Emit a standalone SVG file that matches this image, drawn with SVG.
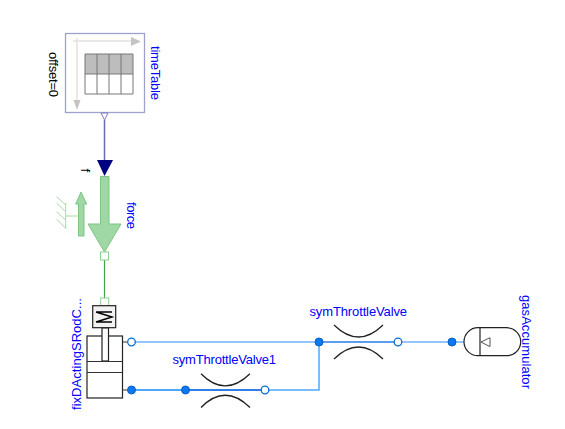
<svg xmlns="http://www.w3.org/2000/svg" width="565" height="429" viewBox="0 0 565 429">
<style>
text{font-family:"Liberation Sans",Arial,sans-serif;font-size:13px;fill:#0000ff}
text.k{fill:#000}
.p{fill:#fff;stroke:#0a6fd8;stroke-width:1.3}
.f{fill:#0a78f0;stroke:#0a5fc0;stroke-width:1}
.w{fill:none;stroke:#4da6ff;stroke-width:1.5}
.arc{fill:none;stroke:#222;stroke-width:1.3}
.g{fill:#a0d8a5;stroke:#7dc585;stroke-width:1}
.b{fill:#fff;stroke:#222;stroke-width:1.2}
</style>
<g id="connectors">
<path d="M104.500 120V160" fill="none" stroke="#6a6ab8" stroke-width="1.500"/>
<path d="M104.500 260V298" fill="none" stroke="#3fa64a" stroke-width="1.200"/>
<path d="M131.500 342H464" fill="none" stroke="#2a90ff" stroke-width="1.200"/>
<path d="M131.500 390H265" fill="none" stroke="#4da6ff" stroke-width="2"/>
<path d="M265 390H319V342" class="w"/>
<path d="M185 390H265" fill="none" stroke="#2a70e0" stroke-width="1.500"/>
<path d="M319 342H398" fill="none" stroke="#2a70e0" stroke-width="1.200"/>
</g>
<g id="timeTable">
<rect x="65.500" y="33.500" width="79" height="79" fill="#fff" stroke="#a0a0d0" stroke-width="1.300"/>
<path d="M73 41H132M77 38V100" fill="none" stroke="#e2e2e2" stroke-width="1.500"/>
<path d="M131 37L141 41.500L131 46ZM73.500 100H80.500L77 110Z" fill="#c4c4c4"/>
<rect x="85" y="54" width="48" height="20" fill="#bdbdbd"/>
<rect x="85" y="74" width="48" height="20" fill="#fff"/>
<path d="M85 54H133V94H85ZM97 54V94M109 54V94M121 54V94M85 74H133" fill="none" stroke="#777" stroke-width="1"/>
<path d="M101 113H108L104.500 120Z" fill="#fff" stroke="#7a7ac0"/>
<text transform="translate(151 46) rotate(90)" textLength="54">timeTable</text>
<text class="k" transform="translate(48.500 52) rotate(90)" textLength="45">offset=0</text>
</g>
<g id="force">
<path d="M97 160H113L104.500 176Z" fill="#000080"/>
<path d="M100.500 176.500H109V224H121L104.500 252L88 224H100.500Z" class="g"/>
<rect x="100.500" y="252" width="8" height="8" fill="#fff" stroke="#8fcf95"/>
<path d="M65.700 203V229M56.700 196.700L65.700 205M56.700 203.300L65.700 211.700M56.700 211.700L65.700 220M56.700 219.300L65.700 228.300M65.700 216H79" fill="none" stroke="#a5dcaa" stroke-width="1"/>
<path d="M78.500 236V204H75.700L81 192L86.700 204H84V236Z" class="g"/>
<text transform="translate(127 202) rotate(90)" textLength="27">force</text>
<text class="k" transform="translate(81 168.500) rotate(90)">f</text>
</g>
<g id="fixDActingSRodCylinder">
<rect x="100.700" y="298" width="8" height="8" fill="#fff" stroke="#8fcf95"/>
<rect x="92.700" y="305.700" width="23" height="22" fill="#f2f2f2" stroke="#222" stroke-width="1.200"/>
<path d="M96 312L112 317L96 322M96 312H112M96 322H112" fill="none" stroke="#000" stroke-width="1.500"/>
<rect x="87" y="336" width="35.500" height="62" class="b"/>
<rect x="102" y="328" width="6.500" height="33" class="b"/>
<path d="M87 361.500H122.500M87 372.500H122.500" stroke="#333" stroke-width="1.200" fill="none"/>
<path d="M122.500 342H127M122.500 390H127" stroke="#333" stroke-width="1" fill="none"/>
<circle cx="131.500" cy="342" r="3.800" class="p"/>
<circle cx="131.500" cy="390" r="4" class="f"/>
<text transform="translate(81 410) rotate(-90)" textLength="112">fixDActingSRodC...</text>
</g>
<g id="symThrottleValve1">
<path d="M201 373.700Q225 398 250 373.700M201 407.500Q225 383 250 407.500" class="arc"/>
<circle cx="185.500" cy="390" r="4" class="f"/>
<circle cx="265" cy="390" r="3.800" class="p"/>
<text x="172.500" y="364" textLength="103.500">symThrottleValve1</text>
</g>
<g id="symThrottleValve">
<path d="M334 325Q358.500 349 383 325M334 359Q358.500 335 383 359" class="arc"/>
<circle cx="319" cy="342" r="4" class="f"/>
<circle cx="398" cy="342" r="3.800" class="p"/>
<text x="309.500" y="316" textLength="97.500">symThrottleValve</text>
</g>
<g id="gasAccumulator">
<rect x="464" y="327.700" width="56.700" height="28" rx="14" fill="#fff" stroke="#222" stroke-width="1.200"/>
<path d="M480 327.700V355.700" stroke="#222" stroke-width="1.200"/>
<path d="M481 342L490 337.700V346.700Z" fill="none" stroke="#555"/>
<circle cx="452" cy="342" r="4" class="f"/>
<text transform="translate(522 295) rotate(90)" textLength="94">gasAccumulator</text>
</g>
</svg>
